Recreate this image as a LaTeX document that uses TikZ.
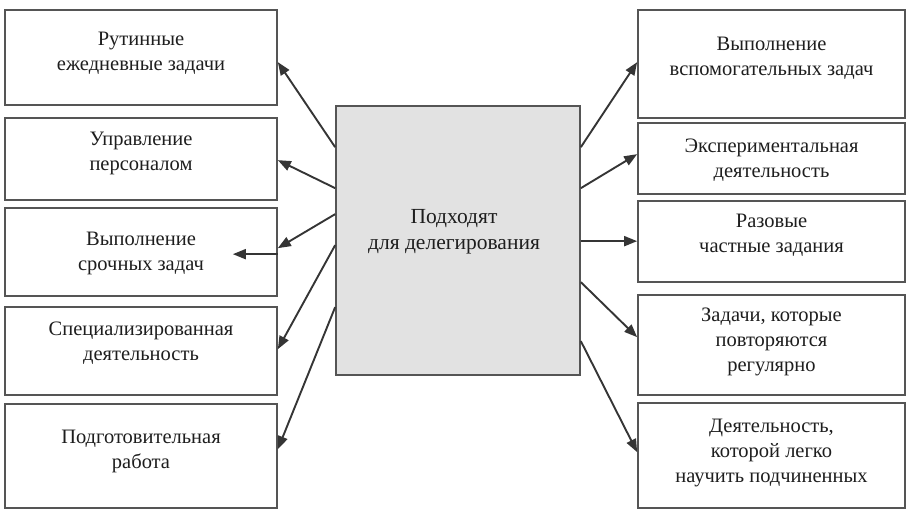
\documentclass[tikz,border=0pt]{standalone}
\usepackage{fontspec}
\setmainfont{Liberation Serif}
\usetikzlibrary{arrows.meta,calc}
\definecolor{edge}{HTML}{555555}
\definecolor{ink}{HTML}{1E1E1E}
\definecolor{arrowc}{HTML}{353535}
\definecolor{cfill}{HTML}{E2E2E2}
\tikzset{
  box/.style={draw=edge, line width=1.7pt, fill=white, inner sep=0pt},
  lbox/.style={box, minimum width=272pt},
  rbox/.style={box, minimum width=267pt},
  txt/.style={align=center, text=ink, inner sep=0pt, font=\fontsize{20.5}{25}\selectfont},
  arr/.style={draw=arrowc, line width=1.9pt, -{Triangle[length=13pt,width=10pt]}}
}
\begin{document}
\begin{tikzpicture}[x=1pt,y=-1pt]
\useasboundingbox (0,0) rectangle (912,515);
% centre
\node[box, fill=cfill, minimum width=244pt, minimum height=269pt] (c) at (458,240.5) {};
\node[txt, font=\fontsize{21.5}{26}\selectfont] (tc) at ($(c.center)+(-4,-9)$) {Подходят\\для делегирования};
% left boxes
\node[lbox, minimum height=95pt]  (l1) at (141,57.5) {};
\node[lbox, minimum height=82pt]  (l2) at (141,159)  {};
\node[lbox, minimum height=88pt]  (l3) at (141,252)  {};
\node[lbox, minimum height=88pt]  (l4) at (141,351)  {};
\node[lbox, minimum height=104pt] (l5) at (141,456)  {};
\node[txt] (tl1) at ($(l1.center)+(0,-4)$) {Рутинные\\ежедневные задачи};
\node[txt] (tl2) at ($(l2.center)+(0,-6)$) {Управление\\персоналом};
\node[txt] (tl3) at ($(l3.center)+(0,1)$)  {Выполнение\\срочных задач};
\node[txt] (tl4) at ($(l4.center)+(0,-8)$) {Специализированная\\деятельность};
\node[txt] (tl5) at ($(l5.center)+(0,-5)$) {Подготовительная\\работа};
% right boxes
\node[rbox, minimum height=108pt] (r1) at (771.5,64)    {};
\node[rbox, minimum height=71pt]  (r2) at (771.5,158.5) {};
\node[rbox, minimum height=81pt]  (r3) at (771.5,241.5) {};
\node[rbox, minimum height=100pt] (r4) at (771.5,345)   {};
\node[rbox, minimum height=105pt] (r5) at (771.5,455.5) {};
\node[txt] (tr1) at ($(r1.center)+(0,-6)$) {Выполнение\\вспомогательных задач};
\node[txt] (tr2) at ($(r2.center)+(0,2)$)  {Экспериментальная\\деятельность};
\node[txt] (tr3) at ($(r3.center)+(0,-6)$) {Разовые\\частные задания};
\node[txt] (tr4) at ($(r4.center)+(0,-3)$) {Задачи, которые\\повторяются\\регулярно};
\node[txt] (tr5) at ($(r5.center)+(0,-3)$) {Деятельность,\\которой легко\\научить подчиненных};
% left arrows
\draw[arr] ($(c.north west)+(0,42)$)  -- ($(l1.north east)+(0,53)$);
\draw[arr] ($(c.north west)+(0,83)$)  -- ($(l2.north east)+(0,43)$);
\draw[arr] ($(c.north west)+(0,109)$) -- ($(l3.north east)+(0,41)$);
\coordinate (l3in) at ($(l3.north east)+(-45,47)$);
\draw[arr] ($(l3.north east)+(0,47)$) -- (l3in);
\draw[arr] ($(c.north west)+(0,140)$) -- ($(l4.north east)+(0,43)$);
\draw[arr] ($(c.north west)+(0,202)$) -- ($(l5.north east)+(0,46)$);
% right arrows
\draw[arr] ($(c.north east)+(0,42)$)  -- ($(r1.north west)+(0,53)$);
\draw[arr] ($(c.north east)+(0,83)$)  -- ($(r2.north west)+(0,32)$);
\draw[arr] ($(c.north east)+(0,136)$) -- ($(r3.north west)+(0,41)$);
\draw[arr] ($(c.north east)+(0,177)$) -- ($(r4.north west)+(0,43)$);
\draw[arr] ($(c.north east)+(0,236)$) -- ($(r5.north west)+(0,50)$);
\end{tikzpicture}
\end{document}
